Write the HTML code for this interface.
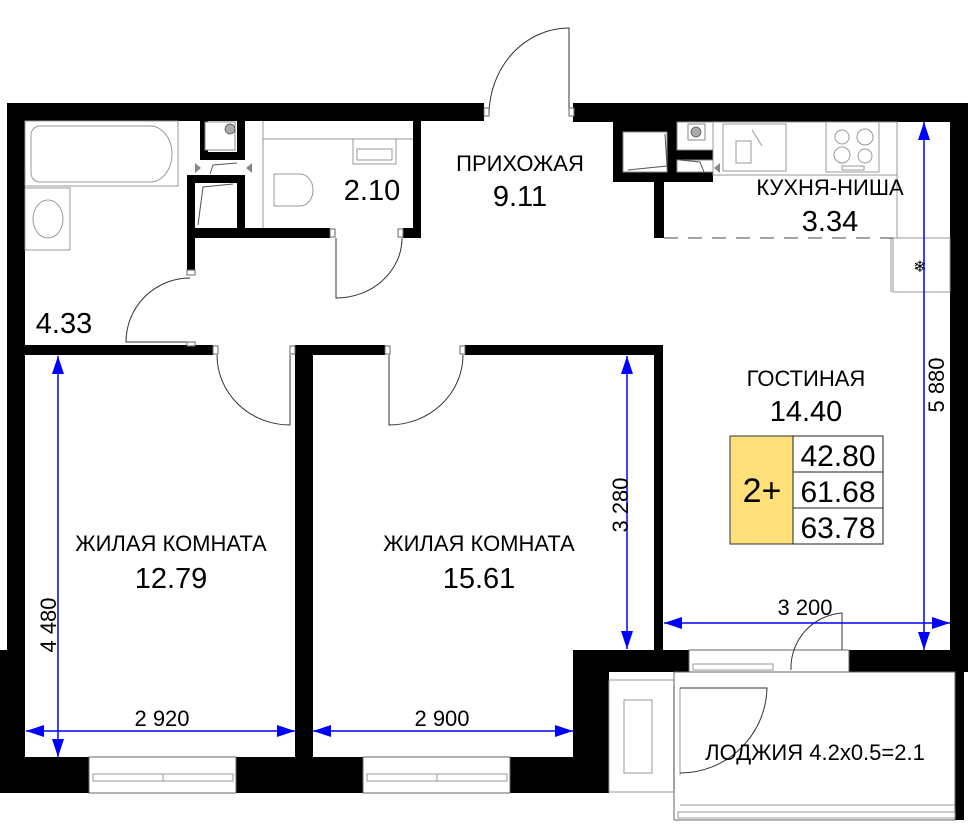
<!DOCTYPE html>
<html><head><meta charset="utf-8"><style>
html,body{margin:0;padding:0;background:#fff}
svg{display:block}
text{font-family:"Liberation Sans",sans-serif;fill:#000}
</style></head><body>
<svg width="973" height="834" viewBox="0 0 973 834" xmlns="http://www.w3.org/2000/svg">
<defs>
<marker id="ar" viewBox="0 0 18 12" refX="18" refY="6" markerWidth="18" markerHeight="12" markerUnits="userSpaceOnUse" orient="auto-start-reverse"><path d="M0,0L18,6L0,12z" fill="#0000ff"/></marker>
</defs>
<g fill="#000">
<rect x="7" y="103" width="477" height="18"/>
<rect x="573" y="103" width="395" height="19"/>
<rect x="7" y="103" width="18" height="690"/>
<rect x="0" y="650" width="25" height="143"/>
<rect x="950" y="103" width="18" height="569"/>
<rect x="955" y="672" width="9" height="148"/>
<rect x="0" y="757" width="89" height="36"/>
<rect x="236" y="757" width="127" height="36"/>
<rect x="510" y="757" width="99" height="36"/>
<rect x="295" y="345" width="18" height="412"/>
<rect x="25" y="345" width="188" height="10"/>
<rect x="295" y="345" width="90" height="10"/>
<rect x="465" y="345" width="198" height="10"/>
<rect x="654" y="345" width="9" height="305"/>
<rect x="573" y="650" width="116" height="22"/>
<rect x="849" y="650" width="119" height="22"/>
<rect x="573" y="650" width="36" height="132"/>
<rect x="187" y="175" width="8" height="100"/>
<rect x="187" y="228" width="143" height="10"/>
<rect x="403" y="228" width="17" height="10"/>
<rect x="413" y="121" width="8" height="117"/>
<rect x="200" y="121" width="8" height="39"/>
<rect x="237" y="121" width="8" height="39"/>
<rect x="200" y="152" width="45" height="8"/>
<rect x="187" y="175" width="58" height="8"/>
<rect x="237" y="175" width="8" height="63"/>
<rect x="613" y="122" width="100" height="60"/>
<rect x="654" y="180" width="10" height="58"/>
</g>
<g fill="#fff" stroke="#888" stroke-width="1">
<rect x="623" y="132" width="44" height="40"/>
<rect x="677" y="122" width="36" height="28"/>
<rect x="677" y="160" width="36" height="12"/>
<rect x="688" y="124" width="17" height="16"/>
<rect x="205" y="122" width="30" height="28"/>
</g>
<circle cx="696" cy="132" r="5" fill="#aaa" stroke="#444" stroke-width="0.7"/>
<circle cx="230" cy="129" r="5" fill="#aaa" stroke="#444" stroke-width="0.7"/>
<g fill="none" stroke="#555" stroke-width="1">
<path d="M628,170L667,166L665,134"/>
<path d="M680,160L700,162L704,172"/>
<path d="M198,225L203,187L233,184"/>
<path d="M210,174L213,165L237,163"/>
</g>
<g fill="#888"><path d="M195,163l6,5l-6,5z"/><path d="M252,163l-6,5l6,5z"/><path d="M720,163l-6,5l6,5z"/></g>
<g fill="none" stroke="#999" stroke-width="1">
<rect x="25" y="121" width="153" height="65"/>
<path d="M40,126H150a22,28 0 0 1 0,56H40a9,9 0 0 1 -9,-9V135a9,9 0 0 1 9,-9z"/>
<rect x="25" y="188" width="45" height="62"/>
<ellipse cx="48" cy="219" rx="15" ry="19"/>
<line x1="263" y1="121" x2="263" y2="228"/>
<line x1="263" y1="139" x2="413" y2="139"/>
<rect x="353" y="139" width="43" height="25"/>
<rect x="357" y="149" width="35" height="11"/>
<path d="M274,174H300a13,16 0 0 1 0,32H274z"/>
<rect x="713" y="122" width="184" height="53"/>
<line x1="897" y1="175" x2="897" y2="238"/>
<rect x="723" y="124" width="63" height="47"/>
<rect x="826" y="122" width="53" height="50"/>
<circle cx="842" cy="137" r="7"/><circle cx="865" cy="137" r="8"/>
<circle cx="842" cy="155" r="8"/><circle cx="865" cy="156" r="7"/>
<rect x="842" y="166" width="22" height="4"/>
<rect x="736" y="141" width="15" height="22"/>
<rect x="893" y="238" width="57" height="54"/>
<line x1="891" y1="238" x2="891" y2="292"/>
<line x1="752" y1="130" x2="762" y2="146"/>
<rect x="609" y="680" width="65" height="112"/>
<rect x="624" y="700" width="28" height="73"/>
<rect x="89" y="757" width="147" height="36" fill="#fff" stroke="#666"/>
<rect x="93" y="774" width="140" height="7"/>
<line x1="163" y1="774" x2="163" y2="781"/>
<rect x="363" y="757" width="147" height="36" fill="#fff" stroke="#666"/>
<rect x="367" y="774" width="140" height="7"/>
<line x1="437" y1="774" x2="437" y2="781"/>
<rect x="689" y="650" width="160" height="22" fill="#fff" stroke="#666"/>
<rect x="693" y="664" width="80" height="6"/>
<rect x="674" y="672" width="281" height="148" fill="#fff" stroke="#666"/>
<line x1="680" y1="805" x2="955" y2="805"/>
<rect x="678" y="812" width="277" height="6"/>
<line x1="680" y1="688" x2="680" y2="775"/>
<line x1="674" y1="686" x2="674" y2="790" stroke="#444"/>
</g>
<line x1="664" y1="238" x2="893" y2="238" stroke="#444" stroke-width="1" stroke-dasharray="14,10"/>
<text x="920" y="272" font-size="16" fill="#888" text-anchor="middle">❄</text>
<g fill="none" stroke="#333" stroke-width="1">
<path d="M569,115V28A80,87 0 0 0 489,115"/>
<path d="M217,355A73,70 0 0 0 290,425V355"/>
<path d="M389,355V425A74,70 0 0 0 463,355"/>
<path d="M190,278A64,64 0 0 0 126,342H190"/>
<path d="M336,238V298A66,60 0 0 0 402,238"/>
<path d="M791,670A55,55 0 0 1 842,613V650"/>
<path d="M680,688H767A87,87 0 0 1 680,773"/>
</g>
<g fill="#fff" stroke="#666" stroke-width="1">
<rect x="484" y="108" width="5" height="8"/><rect x="569" y="108" width="5" height="8"/>
<rect x="213" y="346" width="5" height="8"/><rect x="290" y="346" width="5" height="8"/>
<rect x="385" y="346" width="5" height="8"/><rect x="460" y="346" width="5" height="8"/>
<rect x="330" y="229" width="5" height="8"/><rect x="398" y="229" width="5" height="8"/>
<rect x="187" y="270" width="8" height="5"/><rect x="187" y="342" width="8" height="4"/>
</g>
<g stroke="#0000ff" stroke-width="1.5" fill="none">
<line x1="58" y1="356" x2="58" y2="757" marker-start="url(#ar)" marker-end="url(#ar)"/>
<line x1="627" y1="356" x2="627" y2="649" marker-start="url(#ar)" marker-end="url(#ar)"/>
<line x1="26" y1="731" x2="295" y2="731" marker-start="url(#ar)" marker-end="url(#ar)"/>
<line x1="313" y1="731" x2="573" y2="731" marker-start="url(#ar)" marker-end="url(#ar)"/>
<line x1="924" y1="122" x2="924" y2="650" marker-start="url(#ar)" marker-end="url(#ar)"/>
<line x1="664" y1="623" x2="950" y2="623" marker-start="url(#ar)" marker-end="url(#ar)"/>
</g>
<rect x="730" y="436" width="63" height="108" fill="#ffdf7a" stroke="#333"/>
<rect x="793" y="436" width="90" height="36" fill="#fff" stroke="#222"/>
<rect x="793" y="472" width="90" height="36" fill="#fff" stroke="#222"/>
<rect x="793" y="508" width="90" height="36" fill="#fff" stroke="#222"/>
<g font-size="30" text-anchor="middle">
<text x="762" y="502" font-size="34">2+</text>
<text x="838" y="466">42.80</text>
<text x="838" y="502">61.68</text>
<text x="838" y="538">63.78</text>
</g>
<g text-anchor="middle" font-size="22">
<text x="520" y="171">ПРИХОЖАЯ</text>
<text x="830" y="195">КУХНЯ-НИША</text>
<text x="806" y="386">ГОСТИНАЯ</text>
<text x="171" y="551">ЖИЛАЯ КОМНАТА</text>
<text x="479" y="551">ЖИЛАЯ КОМНАТА</text>
<text x="815" y="760">ЛОДЖИЯ 4.2x0.5=2.1</text>
<text x="162" y="726">2 920</text>
<text x="442" y="726">2 900</text>
<text x="805" y="615">3 200</text>
<text transform="translate(56,625) rotate(-90)">4 480</text>
<text transform="translate(628,505) rotate(-90)">3 280</text>
<text transform="translate(944,385) rotate(-90)">5 880</text>
</g>
<g text-anchor="middle" font-size="29">
<text x="520" y="206">9.11</text>
<text x="372" y="200">2.10</text>
<text x="64" y="333">4.33</text>
<text x="830" y="231">3.34</text>
<text x="806" y="421">14.40</text>
<text x="171" y="588">12.79</text>
<text x="479" y="588">15.61</text>
</g>
</svg>
</body></html>
